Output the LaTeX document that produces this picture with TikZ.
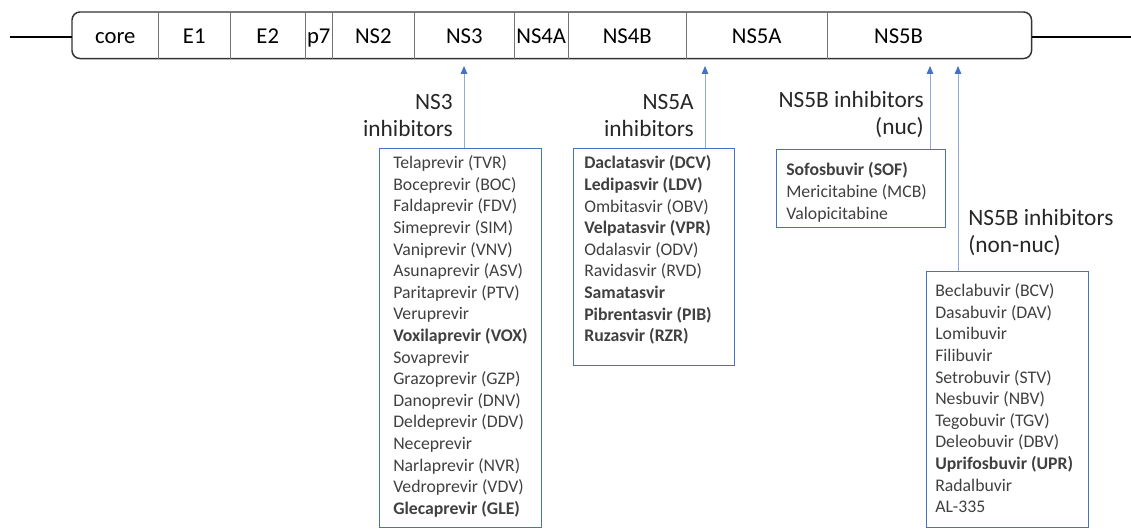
\documentclass[tikz,border=0pt]{standalone}
\usepackage{fontspec}
\setmainfont{Carlito}
\usetikzlibrary{arrows.meta,positioning}
\definecolor{boxblue}{RGB}{68,114,196}
\definecolor{arrowblue}{RGB}{143,170,220}
\definecolor{listgray}{RGB}{64,64,64}
\definecolor{bargray}{RGB}{51,51,51}

\begin{document}
\begin{tikzpicture}
  [x=0.75pt,y=-0.75pt,
   cell/.style={inner sep=0pt,minimum height=34.5pt,anchor=north west,
     text height=14pt,text depth=1.5pt,font=\fontsize{17}{20}\selectfont},
   divider/.style={draw=black!55,line width=0.6pt},
   genome/.style={draw=bargray,line width=1.1pt,rounded corners=6pt},
   backbone/.style={draw=black,line width=1.5pt},
   listbox/.style={draw=boxblue,line width=0.9pt,inner sep=0pt,anchor=north west},
   listtxt/.style={inner sep=0pt,anchor=north west,align=left,text=listgray,
     font=\fontsize{13.3}{16.2}\selectfont},
   lab/.style={inner sep=0pt,text=black!85,font=\fontsize{17.5}{20.3}\selectfont},
   arr/.style={draw=arrowblue,line width=0.75pt,
     -{Triangle[length=6pt,width=5pt,color=boxblue]}}]
  \useasboundingbox (0,0) rectangle (1131,530);
  \foreach \n/\l/\r in {core/72/158,E1/158/230,E2/230/305,p7/305/332,NS2/332/414,
      NS3/414/514,NS4A/514/568,NS4B/568/686,NS5A/686/827}
    \node[cell,minimum width={(\r-\l)*0.75pt}] (\n) at (\l,12) {\n};
  \node[cell,minimum width=153pt] (NS5B) at (827,12) {NS5B\kern46pt};
  \draw[genome] (core.north west) rectangle (NS5B.south east);
  \foreach \n in {core,E1,E2,p7,NS2,NS3,NS4A,NS4B,NS5A}
    \draw[divider] (\n.north east) -- (\n.south east);
  \coordinate (lend) at (10,37);
  \coordinate (rend) at (1131,37);
  \draw[backbone] (lend) -- (lend -| core.west);
  \draw[backbone] (rend -| NS5B.east) -- (rend);

  \node[listbox,minimum width=121.5pt,minimum height=284.25pt] (ns3box) at (379,148) {};
  \node[listbox,minimum width=120.75pt,minimum height=162.75pt] (ns5abox) at (573,148) {};
  \node[listbox,minimum width=126.75pt,minimum height=58.5pt] (nucbox) at (776,149) {};
  \node[listbox,minimum width=121.5pt,minimum height=192pt] (nonnucbox) at (926,271) {};

  \node[listtxt] (ns3list) at (393,155.5) {Telaprevir (TVR)\\Boceprevir (BOC)\\
    Faldaprevir (FDV)\\Simeprevir (SIM)\\Vaniprevir (VNV)\\Asunaprevir (ASV)\\
    Paritaprevir (PTV)\\Veruprevir\\\textbf{Voxilaprevir (VOX)}\\Sovaprevir\\
    Grazoprevir (GZP)\\Danoprevir (DNV)\\Deldeprevir (DDV)\\Neceprevir\\
    Narlaprevir (NVR)\\Vedroprevir (VDV)\\\textbf{Glecaprevir (GLE)}};
  \node[listtxt] (ns5alist) at (584,155.5) {\textbf{Daclatasvir (DCV)}\\
    \textbf{Ledipasvir (LDV)}\\Ombitasvir (OBV)\\\textbf{Velpatasvir (VPR)}\\
    Odalasvir (ODV)\\Ravidasvir (RVD)\\\textbf{Samatasvir}\\
    \textbf{Pibrentasvir (PIB)}\\\textbf{Ruzasvir (RZR)}};
  \node[listtxt] (nuclist) at (786,162.5) {\textbf{Sofosbuvir (SOF)}\\
    Mericitabine (MCB)\\Valopicitabine};
  \node[listtxt] (nonnuclist) at (935,283.5) {Beclabuvir (BCV)\\Dasabuvir (DAV)\\
    Lomibuvir\\Filibuvir\\Setrobuvir (STV)\\Nesbuvir (NBV)\\Tegobuvir (TGV)\\
    Deleobuvir (DBV)\\\textbf{Uprifosbuvir (UPR)}\\Radalbuvir\\AL-335};

  \node[lab,anchor=north east,align=right] (ns3lab) at (453,94) {NS3\\inhibitors};
  \node[lab,anchor=north east,align=right] (ns5alab) at (694,94) {NS5A\\inhibitors};
  \node[lab,anchor=north east,align=right] (nuclab) at (924,91) {NS5B inhibitors\\(nuc)};
  \node[lab,anchor=north west,align=left] (nonnuclab) at (968,209) {NS5B inhibitors\\(non-nuc)};

  \coordinate (ns3tip) at (464,66);
  \coordinate (ns5atip) at (705,66);
  \coordinate (nuctip) at (930,66);
  \coordinate (nonnuctip) at (958,66);
  \draw[arr] (ns3box.north -| ns3tip) -- (ns3tip);
  \draw[arr] (ns5abox.north -| ns5atip) -- (ns5atip);
  \draw[arr] (nucbox.north -| nuctip) -- (nuctip);
  \draw[arr] (nonnucbox.north -| nonnuctip) -- (nonnuctip);
\end{tikzpicture}
\end{document}
